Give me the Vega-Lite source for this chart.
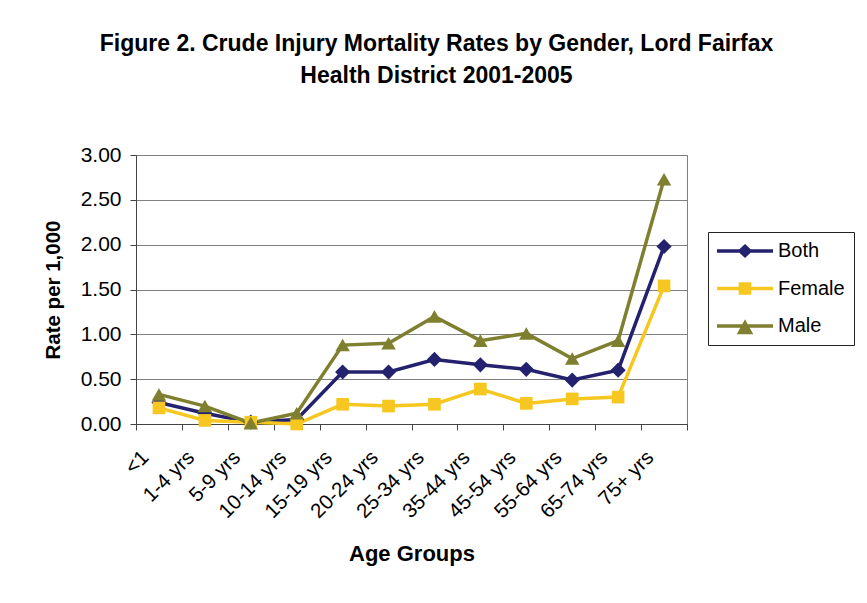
{
  "$schema": "https://vega.github.io/schema/vega-lite/v6.json",
  "width": 551,
  "height": 269,
  "autosize": {"type": "none"},
  "padding": {"left": 136, "top": 155, "right": 180, "bottom": 179},
  "background": "white",
  "title": {
    "text": ["Figure 2. Crude Injury Mortality Rates by Gender, Lord Fairfax", "Health District 2001-2005"],
    "font": "Liberation Sans",
    "fontSize": 23,
    "fontWeight": "bold",
    "color": "black",
    "anchor": "middle",
    "frame": "group",
    "dx": 25,
    "offset": 56,
    "lineHeight": 32
  },
  "config": {
    "view": {"stroke": "#808080", "strokeWidth": 1},
    "font": "Liberation Sans"
  },
  "data": {
    "values": [
      {"age": "<1", "series": "Both", "rate": 0.24},
      {"age": "1-4 yrs", "series": "Both", "rate": 0.12},
      {"age": "5-9 yrs", "series": "Both", "rate": 0.02},
      {"age": "10-14 yrs", "series": "Both", "rate": 0.05},
      {"age": "15-19 yrs", "series": "Both", "rate": 0.58},
      {"age": "20-24 yrs", "series": "Both", "rate": 0.58},
      {"age": "25-34 yrs", "series": "Both", "rate": 0.72},
      {"age": "35-44 yrs", "series": "Both", "rate": 0.66},
      {"age": "45-54 yrs", "series": "Both", "rate": 0.61},
      {"age": "55-64 yrs", "series": "Both", "rate": 0.49},
      {"age": "65-74 yrs", "series": "Both", "rate": 0.60},
      {"age": "75+ yrs", "series": "Both", "rate": 1.98},
      {"age": "<1", "series": "Female", "rate": 0.18},
      {"age": "1-4 yrs", "series": "Female", "rate": 0.04},
      {"age": "5-9 yrs", "series": "Female", "rate": 0.02},
      {"age": "10-14 yrs", "series": "Female", "rate": 0.0},
      {"age": "15-19 yrs", "series": "Female", "rate": 0.22},
      {"age": "20-24 yrs", "series": "Female", "rate": 0.20},
      {"age": "25-34 yrs", "series": "Female", "rate": 0.22},
      {"age": "35-44 yrs", "series": "Female", "rate": 0.39},
      {"age": "45-54 yrs", "series": "Female", "rate": 0.23},
      {"age": "55-64 yrs", "series": "Female", "rate": 0.28},
      {"age": "65-74 yrs", "series": "Female", "rate": 0.30},
      {"age": "75+ yrs", "series": "Female", "rate": 1.54},
      {"age": "<1", "series": "Male", "rate": 0.33},
      {"age": "1-4 yrs", "series": "Male", "rate": 0.20},
      {"age": "5-9 yrs", "series": "Male", "rate": 0.01},
      {"age": "10-14 yrs", "series": "Male", "rate": 0.12},
      {"age": "15-19 yrs", "series": "Male", "rate": 0.88},
      {"age": "20-24 yrs", "series": "Male", "rate": 0.90},
      {"age": "25-34 yrs", "series": "Male", "rate": 1.20},
      {"age": "35-44 yrs", "series": "Male", "rate": 0.93},
      {"age": "45-54 yrs", "series": "Male", "rate": 1.01},
      {"age": "55-64 yrs", "series": "Male", "rate": 0.73},
      {"age": "65-74 yrs", "series": "Male", "rate": 0.93},
      {"age": "75+ yrs", "series": "Male", "rate": 2.73}
    ]
  },
  "encoding": {
    "x": {
      "field": "age",
      "type": "nominal",
      "sort": ["<1", "1-4 yrs", "5-9 yrs", "10-14 yrs", "15-19 yrs", "20-24 yrs", "25-34 yrs", "35-44 yrs", "45-54 yrs", "55-64 yrs", "65-74 yrs", "75+ yrs"],
      "bandPosition": 0.5,
      "scale": {"type": "band", "paddingInner": 0, "paddingOuter": 0},
      "axis": {
        "title": "Age Groups",
        "titleFont": "Liberation Sans",
        "titleFontSize": 22,
        "titleFontWeight": "bold",
        "titleColor": "black",
        "titlePadding": 22,
        "labelAngle": -45,
        "labelAlign": "right",
        "labelBaseline": "middle",
        "labelFont": "Liberation Sans",
        "labelFontSize": 20.5,
        "labelColor": "black",
        "labelPadding": 24,
        "labelOffset": -14,
        "tickBand": "extent",
        "tickSize": 6,
        "tickColor": "#444",
        "domainColor": "#444",
        "grid": false
      }
    },
    "y": {
      "field": "rate",
      "type": "quantitative",
      "scale": {"domain": [0, 3]},
      "axis": {
        "title": "Rate per 1,000",
        "titleFont": "Liberation Sans",
        "titleFontSize": 20.5,
        "titleFontWeight": "bold",
        "titleColor": "black",
        "titlePadding": 17,
        "values": [0, 0.5, 1, 1.5, 2, 2.5, 3],
        "format": ".2f",
        "labelFont": "Liberation Sans",
        "labelFontSize": 21,
        "labelColor": "black",
        "labelPadding": 9,
        "tickSize": 6,
        "tickColor": "#444",
        "domainColor": "#444",
        "grid": true,
        "gridColor": "#808080"
      }
    },
    "color": {
      "field": "series",
      "type": "nominal",
      "scale": {"domain": ["Both", "Female", "Male"], "range": ["#24226E", "#F6C720", "#7F7F30"]},
      "legend": {
        "orient": "none",
        "legendX": 572,
        "legendY": 77,
        "title": null,
        "strokeColor": "#222",
        "fillColor": "white",
        "padding": 9,
        "labelFont": "Liberation Sans",
        "labelFontSize": 20,
        "labelColor": "black",
        "labelOffset": 41,
        "symbolSize": 400,
        "symbolStrokeWidth": 0,
        "rowPadding": 17.5,
        "encode": {
          "symbols": {
            "update": {
              "shape": {"signal": "datum.value === 'Both' ? 'M-1,-0.18L4.6,-0.18L4.6,0.18L-1,0.18ZM1.8,-0.7L2.55,0L1.8,0.7L1.05,0Z' : datum.value === 'Female' ? 'M-1,-0.18L4.6,-0.18L4.6,0.18L-1,0.18ZM1.17,-0.63L2.43,-0.63L2.43,0.63L1.17,0.63Z' : 'M-1,-0.18L4.6,-0.18L4.6,0.18L-1,0.18ZM1.8,-0.67L2.63,0.83L0.97,0.83Z'"},
              "size": {"value": 400},
              "fill": {"signal": "datum.value === 'Both' ? '#24226E' : datum.value === 'Female' ? '#F6C720' : '#7F7F30'"},
              "stroke": {"signal": "datum.value === 'Both' ? '#24226E' : datum.value === 'Female' ? '#F6C720' : '#7F7F30'"},
              "strokeWidth": {"value": 0},
              "opacity": {"value": 1},
              "fillOpacity": {"value": 1}
            }
          }
        }
      }
    }
  },
  "layer": [
    {"mark": {"type": "line", "strokeWidth": 3.5}},
    {
      "transform": [{"filter": "datum.series === 'Both'"}],
      "mark": {"type": "point", "filled": true, "opacity": 1, "shape": "diamond", "size": 230}
    },
    {
      "transform": [{"filter": "datum.series === 'Female'"}],
      "mark": {"type": "point", "filled": true, "opacity": 1, "shape": "square", "size": 160}
    },
    {
      "transform": [{"filter": "datum.series === 'Male'"}],
      "mark": {"type": "point", "filled": true, "opacity": 1, "shape": "triangle-up", "size": 210}
    }
  ]
}
